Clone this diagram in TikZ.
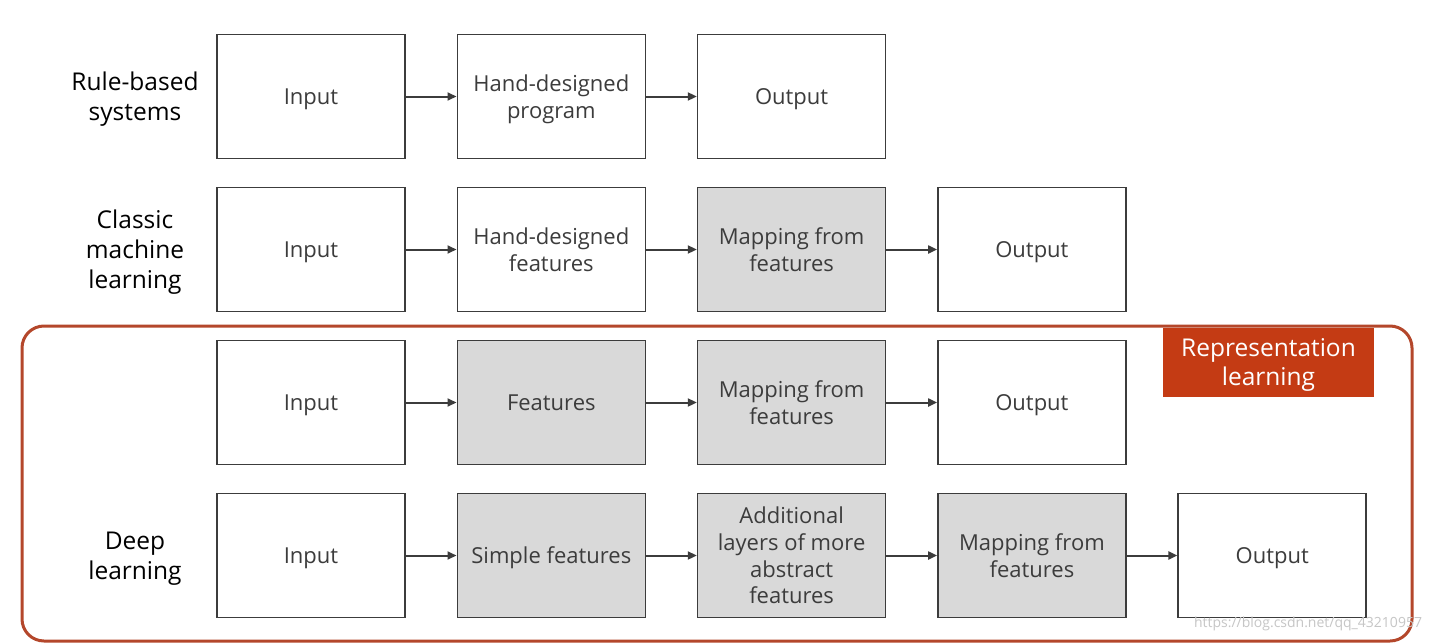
\documentclass[tikz,border=0pt]{standalone}
\usepackage{fontspec}
\setmainfont{Open Sans}
\usetikzlibrary{arrows.meta}
\definecolor{boxgray}{HTML}{D9D9D9}
\definecolor{txtgray}{HTML}{3C3C3C}
\definecolor{framered}{HTML}{B4472B}
\definecolor{tagred}{HTML}{C43B14}
\tikzset{
  blk/.style={draw=txtgray,line width=1.6pt,minimum width=188pt,minimum height=124pt,inner sep=0pt,text depth=0pt,align=center,text=txtgray,font=\fontsize{22}{26.7}\selectfont},
  lnk/.style={draw=txtgray,line width=2pt,-{Triangle[length=9pt,width=8pt]}},
  rowlb/.style={align=center,text=black,text depth=0pt,font=\fontsize{24.5}{30}\selectfont},
  tag/.style={fill=tagred,text=white,minimum width=211pt,minimum height=69pt,inner sep=0pt,text depth=0pt,align=center,font=\fontsize{24.5}{29}\selectfont},
  frm/.style={draw=framered,line width=3pt,rounded corners=22pt},
  wmk/.style={text=gray!45,font=\fontsize{14}{16}\selectfont}
}
\begin{document}
\begin{tikzpicture}[x=1pt,y=1pt]
\pgfmathsetmacro{\kxstep}{240.3}
\pgfmathsetmacro{\kystep}{153}
\pgfmathsetmacro{\kxo}{311}
\pgfmathsetmacro{\kyo}{-96.5}
\useasboundingbox[fill=white](0,0) rectangle (1439,-642);
\draw[frm](22,-326) rectangle (1412,-641);
\node[tag](reptag) at (1268.5,-362.5){Representation\\learning};
\foreach \kr/\ky/\klb in {1/0/{Rule-based\\systems},2/1/{Classic\\machine\\learning},4/3/{Deep\\learning}}{\node[rowlb](lb\kr) at (135,\kyo-\ky*\kystep){\klb};}
\foreach \kn/\kx/\ky/\kf/\klb in {r1a/0/0/white/{Input},r1b/1/0/white/{Hand-designed\\program},r1c/2/0/white/{Output},
  r2a/0/1/white/{Input},r2b/1/1/white/{Hand-designed\\features},r2c/2/1/boxgray/{Mapping from\\features},r2d/3/1/white/{Output},
  r3a/0/2/white/{Input},r3b/1/2/boxgray/{Features},r3c/2/2/boxgray/{Mapping from\\features},r3d/3/2/white/{Output},
  r4a/0/3/white/{Input},r4b/1/3/boxgray/{Simple features},r4c/2/3/boxgray/{Additional\\layers of more\\abstract\\features},r4d/3/3/boxgray/{Mapping from\\features},r4e/4/3/white/{Output}}{\node[blk,fill=\kf](\kn) at (\kxo+\kx*\kxstep,\kyo-\ky*\kystep){\klb};}
\foreach \ka/\kb in {r1a/r1b,r1b/r1c,r2a/r2b,r2b/r2c,r2c/r2d,r3a/r3b,r3b/r3c,r3c/r3d,r4a/r4b,r4b/r4c,r4c/r4d,r4d/r4e}{\draw[lnk](\ka)--(\kb);}
\node[wmk](wmark) at (1308,-624){https://blog.csdn.net/qq\_43210957};
\end{tikzpicture}
\end{document}
